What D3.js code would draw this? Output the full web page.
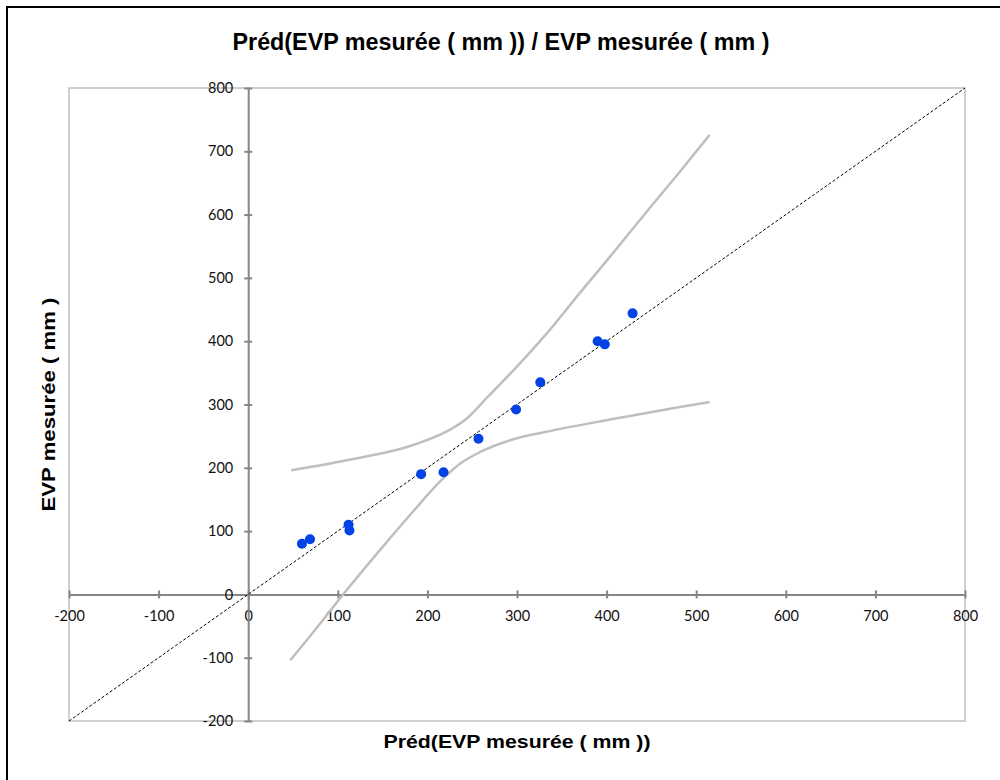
<!doctype html>
<html lang="fr">
<head>
<meta charset="utf-8">
<title>Préd(EVP mesurée ( mm )) / EVP mesurée ( mm )</title>
<style>
    body { margin: 0; background: #fff; }
    svg { display: block; }
    .tick text { font-family: Lato, "Open Sans", sans-serif; font-size: 14.5px; fill: #111; }
    .ttl { font-family: "Liberation Sans", Arial, sans-serif; font-weight: bold; }
</style>
</head>
<body>
<svg width="1000" height="780" id="chart"></svg>
<script src="https://cdn.jsdelivr.net/npm/d3@7"></script>
<script>
    // observations: predicted vs measured
    const predX = [60, 69, 112, 113, 193, 218, 257, 299, 326, 390, 398, 429];
    const measY = [80, 87, 110, 101, 190, 193, 246, 292, 335, 400, 395, 444];

    // confidence bounds
    const upperX = [48, 110, 184, 221, 244, 266, 296, 333, 370, 407, 445, 482, 515];
    const upperY = [196, 212, 236, 257, 278, 310, 354, 412, 476, 539, 605, 668, 726];
    const lowerX = [47, 73, 110, 147, 184, 214, 236, 259, 296, 333, 407, 482, 515];
    const lowerY = [-104, -59, 7, 70, 131, 178, 206, 225, 245, 257, 277, 296, 304];

    const ticks = [-200, -100, 0, 100, 200, 300, 400, 500, 600, 700, 800];

    const svg = d3.select("#chart");
    const plot = {left: 69, right: 965, top: 88, bottom: 721};

    const x = d3.scaleLinear().domain([-200, 800]).range([plot.left, plot.right]);
    const y = d3.scaleLinear().domain([-200, 800]).range([plot.bottom, plot.top]);

    // outer frame
    svg.append("rect")
        .attr("x", 7).attr("y", 7)
        .attr("width", 1010).attr("height", 800)
        .attr("fill", "none").attr("stroke", "#000").attr("stroke-width", 2);

    // plot area frame
    svg.append("rect")
        .attr("x", plot.left).attr("y", plot.top)
        .attr("width", plot.right - plot.left).attr("height", plot.bottom - plot.top)
        .attr("fill", "none").attr("stroke", "#c0c0c0").attr("stroke-width", 1.5);

    // axes crossing at 0
    const fmt = d => String(d);
    const xAxis = svg.append("g")
        .attr("transform", "translate(0," + y(0) + ")")
        .call(d3.axisBottom(x).tickValues(ticks).tickFormat(fmt)
            .tickSizeOuter(0).tickSizeInner(4).tickPadding(12));
    const yAxis = svg.append("g")
        .attr("transform", "translate(" + x(0) + ",0)")
        .call(d3.axisLeft(y).tickValues(ticks).tickFormat(fmt)
            .tickSizeOuter(0).tickSizeInner(4).tickPadding(11));

    [xAxis, yAxis].forEach(a => {
        a.select(".domain").attr("stroke", "#868686").attr("stroke-width", 2);
        a.selectAll(".tick line").attr("stroke", "#868686").attr("stroke-width", 2);
    });
    // cross ticks
    xAxis.selectAll(".tick line").attr("y1", -4).attr("y2", 4);
    yAxis.selectAll(".tick line").attr("x1", -4).attr("x2", 4);

    // bisector y = x
    svg.append("line")
        .attr("x1", x(-200)).attr("y1", y(-200))
        .attr("x2", x(800)).attr("y2", y(800))
        .attr("stroke", "#000").attr("stroke-width", 1)
        .attr("stroke-dasharray", "3,2");

    // confidence curves
    const line = d3.line()
        .x(d => x(d[0])).y(d => y(d[1]))
        .curve(d3.curveMonotoneX);
    const bands = [
        d3.zip(upperX, upperY),
        d3.zip(lowerX, lowerY)
    ];
    svg.selectAll("path.band")
        .data(bands)
        .enter().append("path")
        .attr("class", "band")
        .attr("d", line)
        .attr("fill", "none")
        .attr("stroke", "#bfbfbf")
        .attr("stroke-width", 2.5);

    // points
    svg.append("g")
        .selectAll("circle")
        .data(d3.zip(predX, measY))
        .enter().append("circle")
        .attr("cx", d => x(d[0]))
        .attr("cy", d => y(d[1]))
        .attr("r", 5)
        .attr("fill", "#0343e6");

    // titles
    svg.append("text")
        .attr("class", "ttl")
        .attr("x", 501).attr("y", 50)
        .attr("text-anchor", "middle")
        .attr("textLength", 537).attr("lengthAdjust", "spacingAndGlyphs")
        .style("font-size", "23px")
        .text("Préd(EVP mesurée ( mm )) / EVP mesurée ( mm )");

    svg.append("text")
        .attr("class", "ttl")
        .attr("x", (plot.left + plot.right) / 2).attr("y", 748)
        .attr("text-anchor", "middle")
        .attr("textLength", 267).attr("lengthAdjust", "spacingAndGlyphs")
        .style("font-size", "19px")
        .text("Préd(EVP mesurée ( mm ))");

    svg.append("text")
        .attr("class", "ttl")
        .attr("transform", "translate(55," + (plot.top + plot.bottom) / 2 + ") rotate(-90)")
        .attr("text-anchor", "middle")
        .attr("textLength", 214).attr("lengthAdjust", "spacingAndGlyphs")
        .style("font-size", "19px")
        .text("EVP mesurée ( mm )");
</script>
</body>
</html>
